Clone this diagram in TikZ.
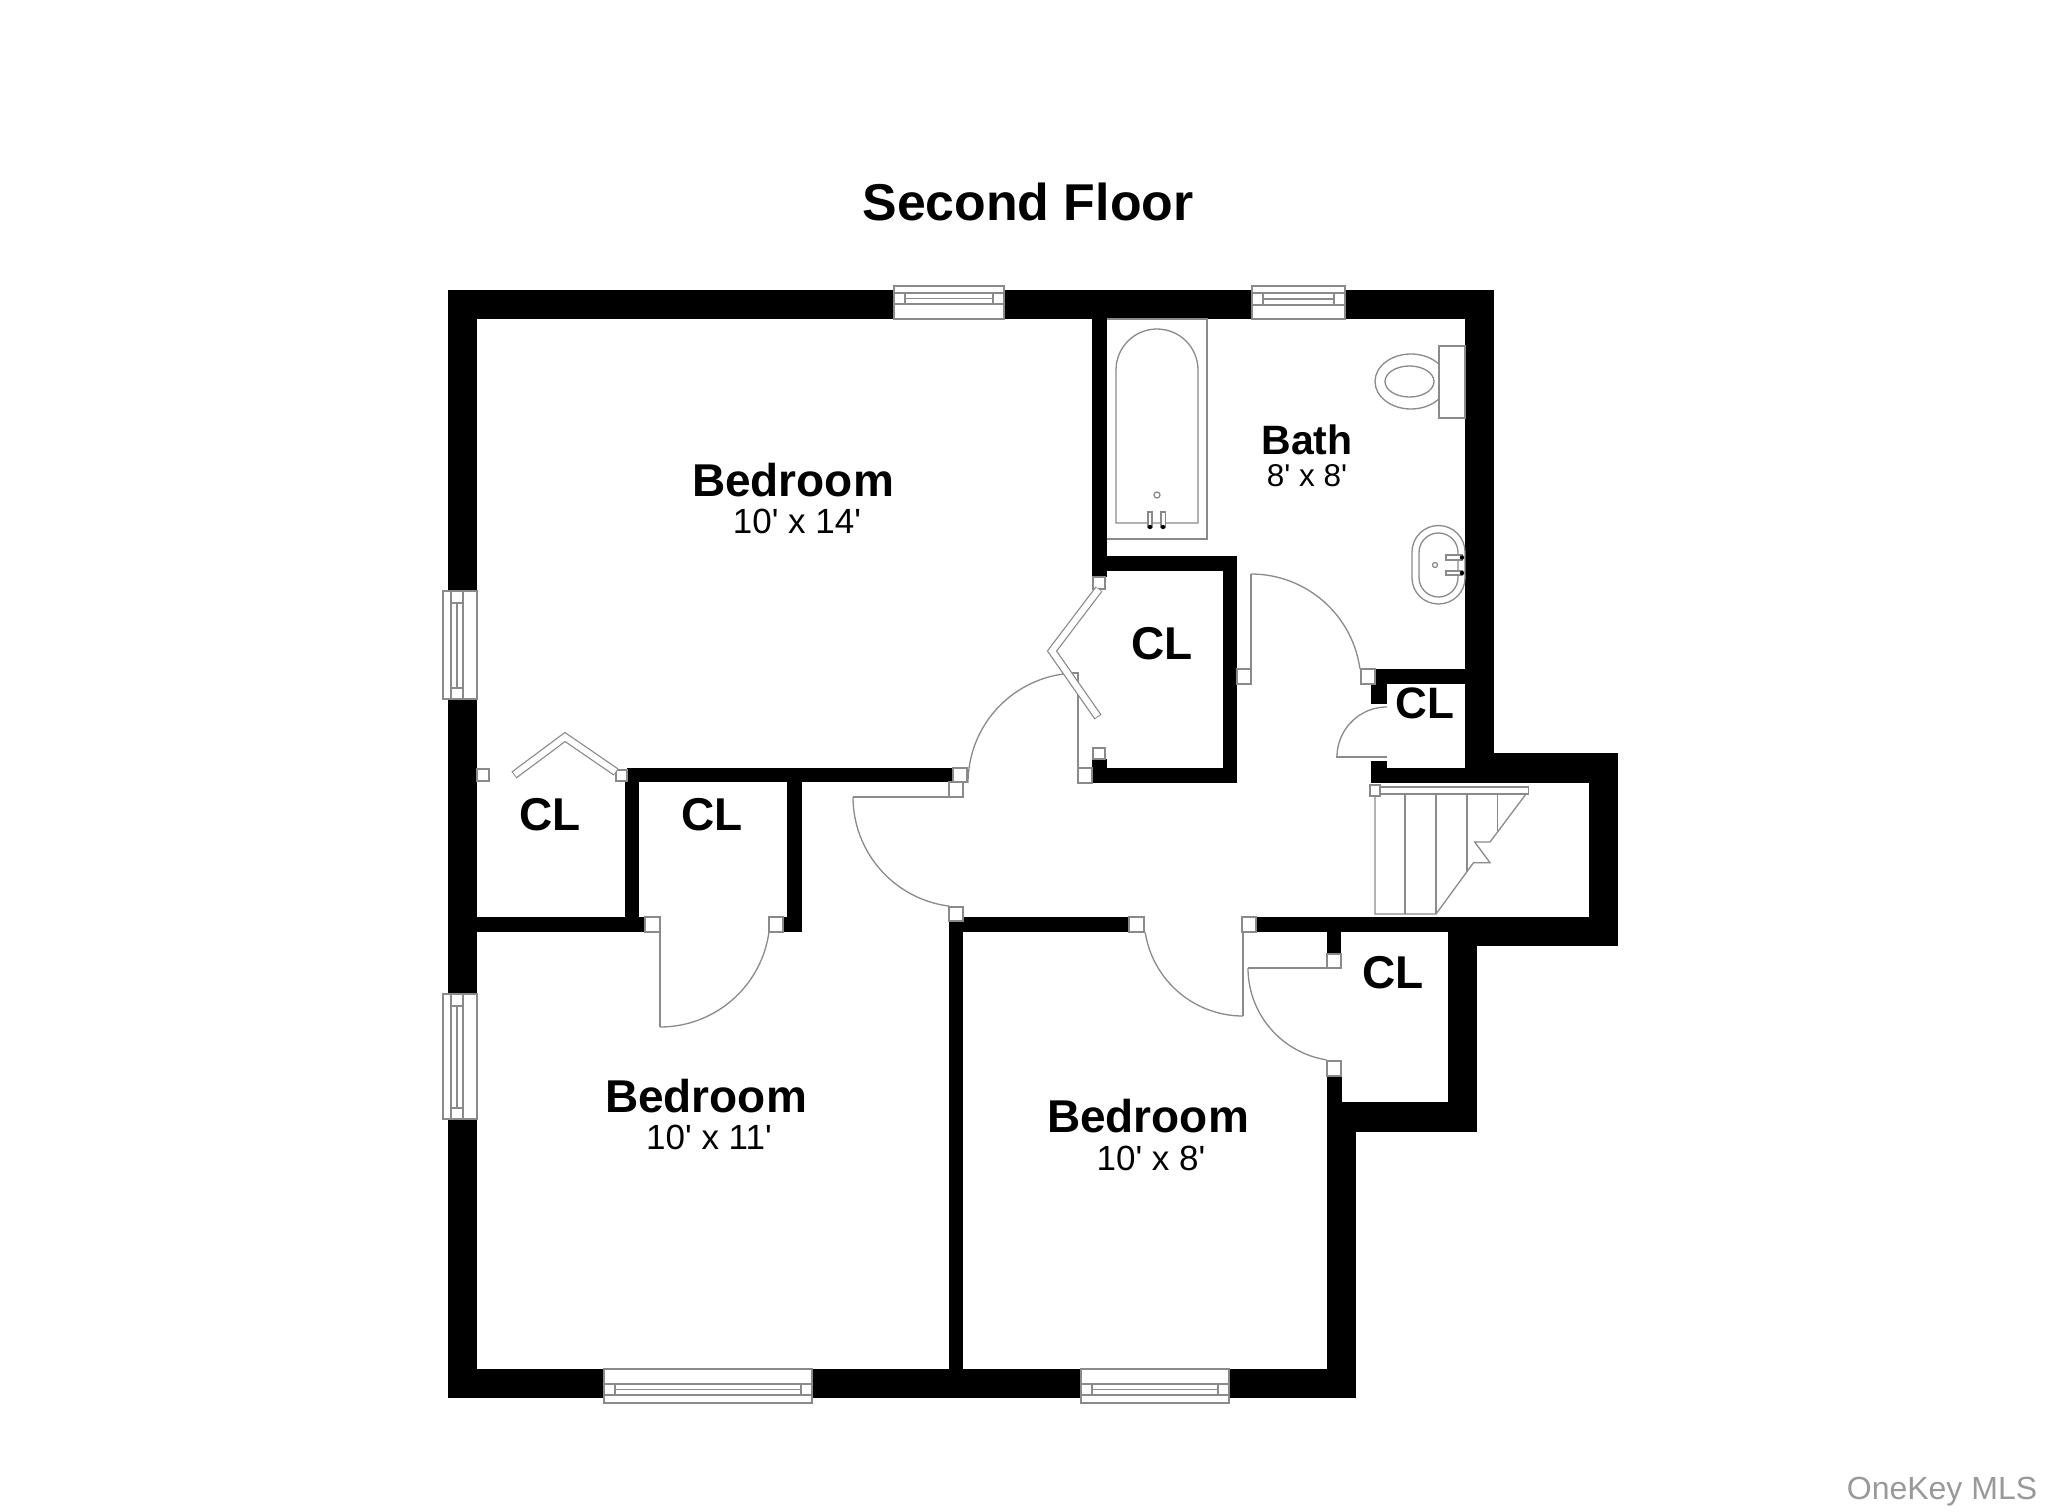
\documentclass[tikz,border=0pt]{standalone}
\usepackage{fontspec}
\setmainfont{Liberation Sans}
\newfontfamily\dimfont{Liberation Sans}
\definecolor{ln}{HTML}{8A8A8A}
\tikzset{
  wall/.style={fill=black,draw=none},
  fix/.style={draw=ln,line width=1.3pt,fill=white},
  thin/.style={draw=ln,line width=1.3pt},
  jamb/.style={draw=ln,line width=1.2pt,fill=white},
  roomlabel/.style={font=\fontsize{46}{46}\selectfont\bfseries,inner sep=0pt,anchor=center},
  sizelabel/.style={font=\dimfont\fontsize{35}{35}\selectfont,inner sep=0pt,anchor=center},
}
\newcommand{\wl}[4]{\fill[wall] (#1,#2) rectangle (#3,#4);}
\newcommand{\jb}[4]{\draw[jamb] (#1,#2) rectangle (#3,#4);}
% arc: centre x, centre y, radius, start, end (angles in y-down picture coordinates)
\newcommand{\doorarc}[5]{\draw[thin,domain=#4:#5,samples=40,smooth,variable=\t] plot ({#1+#3*cos(\t)},{#2+#3*sin(\t)});}
% horizontal window: x1 x2 top bottom line1 line2
\newcommand{\hwin}[6]{%
  \draw[fix] (#1,#3) rectangle (#2,#4);
  \draw[thin] (#1,#5) -- (#2,#5);
  \draw[thin] (#1,#6) -- (#2,#6);
  \draw[thin] ({#1+11},#5) -- ({#1+11},#6);
  \draw[thin] ({#2-11},#5) -- ({#2-11},#6);
  \draw[thin] ({#1+11},{(#5+#6)/2}) -- ({#2-11},{(#5+#6)/2});
}
\newcommand{\vwin}[2]{%
  \draw[fix] (443,#1) rectangle (477,#2);
  \draw[thin] (451,#1) -- (451,#2);
  \draw[thin] (463,#1) -- (463,#2);
  \draw[thin] (451,{#1+12}) -- (463,{#1+12});
  \draw[thin] (451,{#2-11}) -- (463,{#2-11});
  \draw[thin] (457,{#1+12}) -- (457,{#2-11});
}
\begin{document}
\begin{tikzpicture}[x=1pt,y=-1pt,line join=miter]
\useasboundingbox (0,0) rectangle (2048,1512);
\fill[white] (0,0) rectangle (2048,1512);
% outer walls
\wl{448}{290}{1494}{319}
\wl{448}{290}{477}{1398}
\wl{448}{1369}{1356}{1398}
\wl{1465}{290}{1494}{783}
\wl{1494}{753}{1618}{783}
\wl{1371}{768}{1494}{783}
\wl{1589}{753}{1618}{946}
\wl{1256}{917}{1618}{932}
\wl{1477}{932}{1618}{946}
\wl{1448}{932}{1477}{1132}
\wl{1327}{1102}{1477}{1132}
\wl{1327}{1076}{1342}{1102}
\wl{1327}{1102}{1356}{1398}
\wl{1327}{932}{1341}{953}
% inner walls
\wl{477}{917}{645}{932}
\wl{625}{782}{639}{917}
\wl{627}{768}{953}{782}
\wl{787}{782}{802}{932}
\wl{783}{917}{802}{932}
\wl{949}{921}{963}{1369}
\wl{949}{917}{1129}{932}
\wl{1092}{319}{1107}{577}
\wl{1092}{556}{1237}{571}
\wl{1223}{556}{1237}{783}
\wl{1092}{768}{1237}{783}
\wl{1092}{759}{1107}{768}
\wl{1375}{669}{1465}{684}
\wl{1371}{684}{1387}{704}
\wl{1371}{761}{1387}{768}
% door arcs and leaves
\doorarc{1078}{783}{110}{180}{270}
\draw[thin] (1078,783) -- (1078,673) -- (1072,673);
\doorarc{1251}{684}{110}{-90}{-8}
\draw[thin] (1251,684) -- (1251,574);
\doorarc{1387}{757}{50}{180}{270}
\draw[thin] (1336,757) -- (1387,757);
\doorarc{1243}{917}{99}{90}{171}
\draw[thin] (1243,917) -- (1243,1016);
\doorarc{1341}{968}{93}{99}{180}
\draw[thin] (1248,968) -- (1341,968);
\doorarc{660}{917}{110}{0}{90}
\draw[thin] (660,917) -- (660,1027);
\doorarc{963}{797}{110}{97}{180}
\draw[thin] (853,797) -- (963,797);
% jambs
\jb{1093}{577}{1105}{589}
\jb{1093}{748}{1105}{759}
\jb{1078}{768}{1092}{783}
\jb{1237}{669}{1251}{684}
\jb{1361}{669}{1375}{684}
\jb{1242}{917}{1256}{932}
\jb{1129}{917}{1144}{932}
\jb{1327}{954}{1341}{968}
\jb{1327}{1061}{1341}{1076}
\jb{645}{917}{660}{932}
\jb{769}{917}{783}{932}
\jb{953}{768}{967}{782}
\jb{949}{782}{963}{797}
\jb{949}{907}{963}{921}
\jb{616}{770}{627}{781}
\jb{477}{769}{489}{781}
% bifold doors
\draw[ln,line width=8.5pt,line join=miter] (1099,589) -- (1052,651) -- (1098,717);
\draw[white,line width=6pt,line join=miter,shorten <=0.6pt,shorten >=1pt] (1099,589) -- (1052,651) -- (1098,717);
\draw[ln,line width=8.5pt,line join=miter] (616,772) -- (565,737) -- (514,775);
\draw[white,line width=6pt,line join=miter,shorten <=0.6pt,shorten >=1pt] (616,772) -- (565,737) -- (514,775);
% stairs
\draw[thin] (1375,794) -- (1375,914) -- (1436,914) -- (1473.5,862.7) -- (1490,862.7) -- (1474.7,842) -- (1490,842) -- (1526,794);
\draw[thin] (1405,794) -- (1405,914);
\draw[thin] (1436,794) -- (1436,914);
\draw[thin] (1467,794) -- (1467,872);
\draw[thin] (1497.5,794) -- (1497.5,831);
\draw[fix] (1370,787) rectangle (1528.5,794);
\draw[fix] (1370,785) rectangle (1380,796);
% tub
\draw[thin] (1107,319) -- (1207,319) -- (1207,539) -- (1107,539);
\draw[thin] (1116,523) -- (1116,370) arc[start angle=180,end angle=360,x radius=41pt,y radius=-41pt] -- (1198,523) -- cycle;
\draw[thin] (1157,495) circle[radius=3pt];
\draw[thin,fill=white] (1148,512) rectangle (1152,527);
\draw[thin,fill=white] (1161,512) rectangle (1165.5,527);
\fill (1150,527) circle[radius=2.2pt];
\fill (1163,527) circle[radius=2.2pt];
% toilet
\draw[thin] (1411,381.5) ellipse[x radius=36pt,y radius=27.5pt];
\draw[thin,fill=white] (1439,346) rectangle (1465,418);
\draw[thin] (1409.5,381.5) ellipse[x radius=24.5pt,y radius=15.5pt];
% sink
\draw[thin] (1412,552) arc[start angle=180,end angle=360,radius=26.5pt,y radius=-26.5pt] -- (1465,578) arc[start angle=0,end angle=180,x radius=26.5pt,y radius=-26pt] -- cycle;
\draw[thin] (1419,552.5) arc[start angle=180,end angle=360,x radius=19.5pt,y radius=-19.5pt] -- (1458,577.5) arc[start angle=0,end angle=180,x radius=19.5pt,y radius=-19.5pt] -- cycle;
\draw[thin] (1435,565) circle[radius=2.5pt];
\draw[thin,fill=white] (1446,555) rectangle (1462,560);
\draw[thin,fill=white] (1446,571) rectangle (1462,575);
\fill (1462,557.5) circle[radius=2.2pt];
\fill (1462,573) circle[radius=2.2pt];
% windows
\hwin{894}{1004}{286}{319}{293}{304}
\hwin{1252}{1345}{286}{319}{293}{305}
\hwin{604}{812}{1369}{1403}{1384}{1395}
\hwin{1081}{1229}{1369}{1403}{1384}{1395}
\vwin{591}{699}
\vwin{994}{1119}
% labels
\node[font=\fontsize{51.8}{52}\selectfont\bfseries,inner sep=0pt] (title) at (1028,202) {Second Floor};
\node[roomlabel] (r1) at (793,480) {Bedroom};
\node[sizelabel] (s1) at (797,521) {10' x 14'};
\node[roomlabel] (r2) at (706,1096) {Bedroom};
\node[sizelabel] (s2) at (709,1137) {10' x 11'};
\node[roomlabel] (r3) at (1148,1116) {Bedroom};
\node[sizelabel] (s3) at (1151,1158) {10' x 8'};
\node[font=\fontsize{41}{41}\selectfont\bfseries,inner sep=0pt] (r4) at (1307,440) {Bath};
\node[font=\dimfont\fontsize{31.5}{32}\selectfont,inner sep=0pt] (s4) at (1307,476) {8' x 8'};
\node[roomlabel] (c1) at (1162,644) {CL};
\node[roomlabel,font=\fontsize{44}{44}\selectfont\bfseries] (c2) at (1425,703) {CL};
\node[roomlabel] (c3) at (550,815) {CL};
\node[roomlabel] (c4) at (712,815) {CL};
\node[roomlabel] (c5) at (1393,973) {CL};
\node[font=\fontsize{32}{32}\selectfont,text=black!40,inner sep=0pt] (wm) at (1942,1492) {OneKey MLS};
\end{tikzpicture}
\end{document}
